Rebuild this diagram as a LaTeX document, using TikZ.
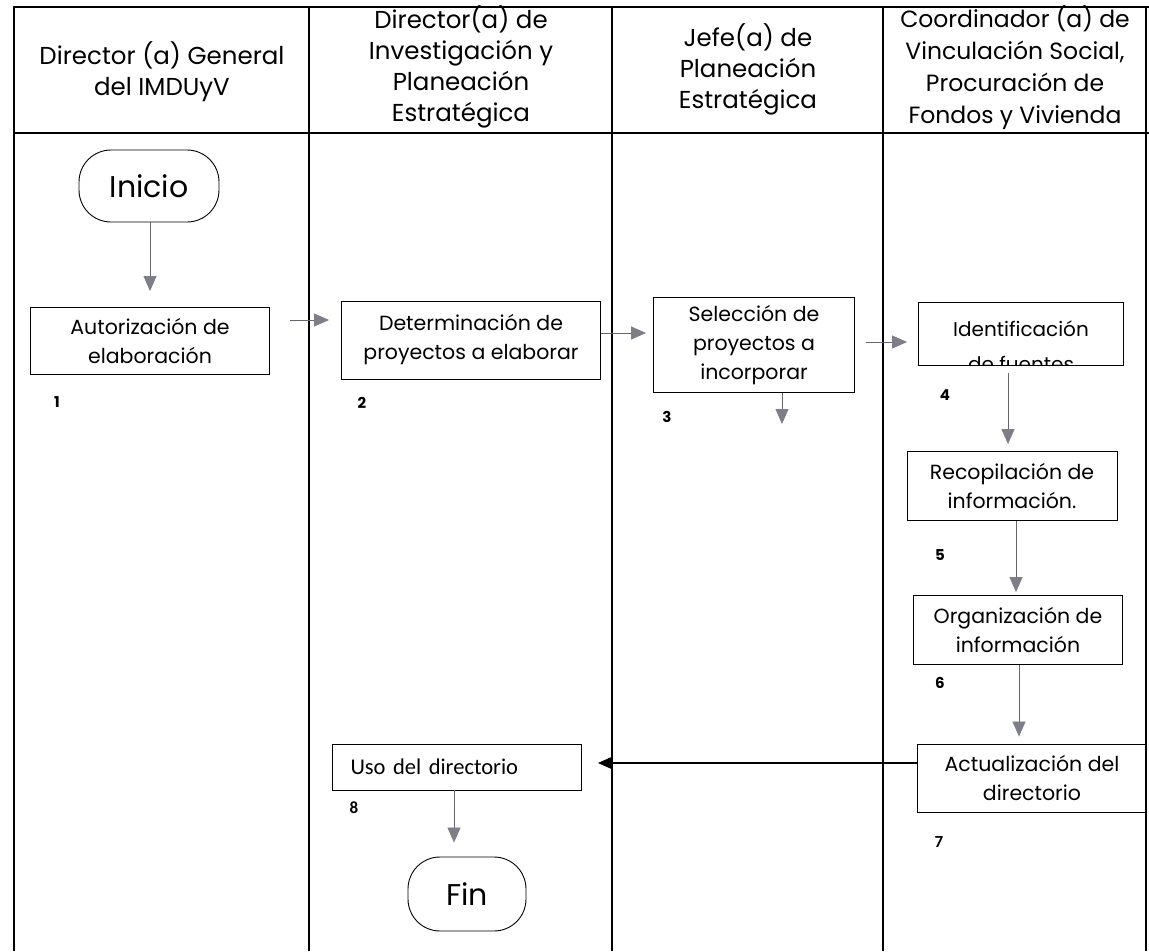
\documentclass[tikz,border=0pt]{standalone}
\usepackage{fontspec}
\setmainfont{Poppins}
\newfontfamily\calib{Carlito}
\usetikzlibrary{arrows.meta}
\definecolor{arrgray}{HTML}{7E7E88}
\definecolor{lngray}{HTML}{66666C}
\begin{document}
\begin{tikzpicture}[x=1pt,y=-1pt,
  hdr/.style={align=center, font=\fontsize{24.5}{31}\selectfont, inner sep=0pt},
  box/.style={draw, line width=0.9pt, align=center, font=\fontsize{20.5}{29}\selectfont, inner sep=2pt},
  term/.style={draw, line width=0.9pt, rounded corners=32pt, font=\fontsize{30}{32}\selectfont},
  num/.style={font=\fontsize{15}{15}\selectfont\bfseries, inner sep=0pt},
  flow/.style={draw=lngray, line width=0.8pt, -{Triangle[width=13pt,length=15pt,fill=arrgray,color=arrgray]}},
  back/.style={draw=black, line width=1.6pt, -{Triangle[width=12pt,length=14pt]}},
  lane/.style={line width=1.4pt}]
\useasboundingbox (0,0) rectangle (1149,951);
\fill[white] (0,0) rectangle (1149,951);
% swimlane table
\draw[lane] (14,951) -- (14,7) -- (1149,7);
\draw[lane] (14,133) -- (1149,133);
\foreach \x in {309,612,883,1146} \draw[lane] (\x,7) -- (\x,951);
% headers
\node[hdr] (h1) at (162,72) {Director (a) General\\del IMDUyV};
\node[hdr] (h2) at (461,67) {Director(a) de\\Investigación y\\Planeación\\Estratégica};
\node[hdr] (h3) at (748,69) {Jefe(a) de\\Planeación\\Estratégica};
\node[hdr, font=\fontsize{23.5}{32}\selectfont] (h4) at (1015,68) {Coordinador (a) de\\Vinculación Social,\\Procuración de\\Fondos y Vivienda};
% terminals
\node[term, minimum width=140pt, minimum height=72pt] (ini) at (149,186) {Inicio};
\node[term, minimum width=118pt, minimum height=74pt] (fin) at (467,894) {Fin};
% process boxes
\node[box, minimum width=239pt, minimum height=67pt] (b1) at (150,341) {Autorización de\\elaboración};
\node[box, minimum width=259pt, minimum height=78pt] (b2) at (471,340) {Determinación de\\proyectos a elaborar};
\node[box, minimum width=201pt, minimum height=95pt] (b3) at (754,345) {Selección de\\proyectos a\\incorporar};
\node[box, minimum width=205pt, minimum height=63pt] (b4) at (1021,334) {};
\begin{scope}
  \clip (b4.south west) rectangle (b4.north east);
  \node[anchor=base, font=\fontsize{20}{29}\selectfont] (b4t1) at (1021,336) {Identificación};
  \node[anchor=base, font=\fontsize{20}{29}\selectfont] (b4t2) at (1021,371) {de fuentes};
\end{scope}
\node[box, minimum width=210pt, minimum height=69pt] (b5) at (1012,486) {Recopilación de\\información.};
\node[box, minimum width=209pt, minimum height=69pt] (b6) at (1018,630) {Organización de\\información};
\node[box, minimum width=229pt, minimum height=68pt] (b7) at (1032,778) {Actualización del\\directorio};
\node[box, minimum height=46pt, text width=213pt, inner xsep=18pt, align=left, font=\calib\fontsize{22.5}{24}\selectfont] (b8) at (457,767) {Uso del directorio};
% step numbers
\node[num] (n1) at (57,402) {1};
\node[num] (n2) at (362,403) {2};
\node[num] (n3) at (667,417) {3};
\node[num] (n4) at (945,395) {4};
\node[num] (n5) at (940,555) {5};
\node[num] (n6) at (940,683) {6};
\node[num, font=\calib\fontsize{17}{17}\selectfont\bfseries] (n7) at (939,842) {7};
\node[num, font=\calib\fontsize{17}{17}\selectfont\bfseries] (n8) at (354,808) {8};
% connectors
\draw[flow, shorten >=16pt] (ini.south -| b1) -- (b1.north);
\draw[flow, shorten <=20pt, shorten >=12pt] (b1.east |- 0,320) -- (b2.west |- 0,320);
\draw[flow, shorten <=0pt, shorten >=7pt] (b2.east |- 0,333) -- (b3.west |- 0,333);
\coordinate (b3d) at (782,424);
\draw[flow] (b3.south -| b3d) -- (b3d);
\draw[flow, shorten <=11pt, shorten >=11pt] (b3.east |- 0,342) -- (b4.west |- 0,342);
\draw[flow, shorten <=7pt, shorten >=7pt] (b4.south -| 1008,0) -- (b5.north -| 1008,0);
\draw[flow, shorten >=3pt] (b5.south -| 1016,0) -- (b6.north -| 1016,0);
\draw[flow, shorten >=7pt] (b6.south -| 1019,0) -- (b7.north -| 1019,0);
\draw[back, shorten >=16pt] (b7.west |- 0,763) -- (b8.east |- 0,763);
\draw[flow, shorten >=14pt] (b8.south -| 454,0) -- (fin.north -| 454,0);
\end{tikzpicture}
\end{document}
